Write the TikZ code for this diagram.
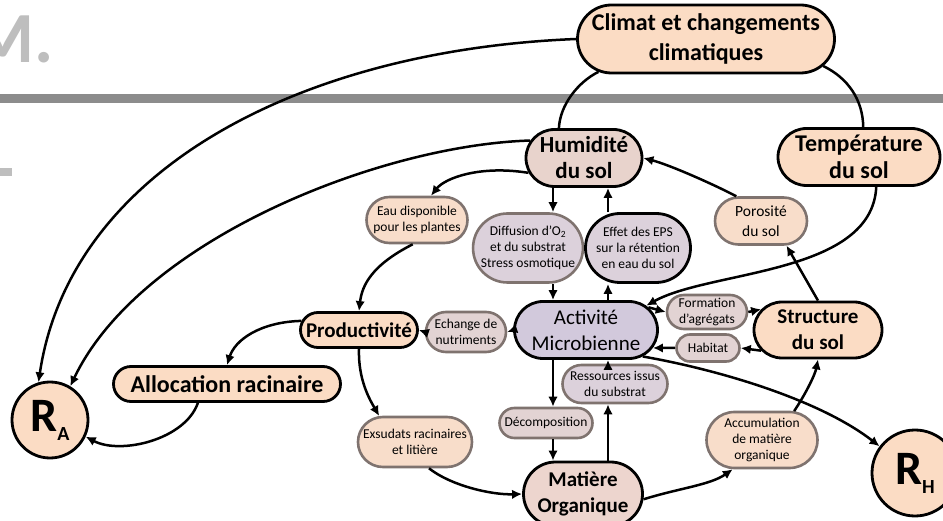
\documentclass[tikz,border=0pt]{standalone}
\usepackage{fontspec}
\setmainfont{Carlito}
\usetikzlibrary{arrows.meta,shapes.misc}

\definecolor{peach}{HTML}{FBDCC4}
\definecolor{peachlt}{HTML}{F8DDCA}
\definecolor{humfill}{HTML}{E8D3CC}
\definecolor{actfill}{HTML}{D2C9DC}
\definecolor{lavgray}{HTML}{DCD1DB}
\definecolor{pinkgray}{HTML}{E2D3D3}
\definecolor{matfill}{HTML}{EDD5CE}
\definecolor{edgegray}{HTML}{7F736F}
\definecolor{barg}{HTML}{8C8C8C}
\definecolor{mgray}{HTML}{BEBEBE}

\begin{document}
\begin{tikzpicture}[x=1pt,y=-1pt,
  >={Latex[length=10pt,width=9.5pt]},
  conn/.style={line width=2.5pt},
  bigbox/.style={rounded rectangle,draw=black,line width=2.8pt,fill=peach,
    align=center,inner sep=0pt,font=\bfseries\fontsize{21}{26}\selectfont},
  smallbox/.style={rounded rectangle,draw=edgegray,line width=2.6pt,fill=peachlt,
    align=center,inner sep=0pt,font=\fontsize{13.5}{16}\selectfont},
  resp/.style={circle,draw=black,line width=2.8pt,fill=peach,inner sep=0pt}]

  \useasboundingbox (0,0) rectangle (943,521);
%
  \fill[barg] (0,94) rectangle (943,103);
  \fill[mgray] (0,168) rectangle (12,176);
  \node[anchor=base east,text=mgray,font=\bfseries\fontsize{72}{72}\selectfont]
    (wm) at (57,63) {M.};
%
  \node[bigbox,minimum width=257pt,minimum height=68pt,
        font=\bfseries\fontsize{24}{30}\selectfont] (clim) at (706,39)
        {Climat et changements\\climatiques};
  \node[bigbox,fill=humfill,minimum width=116pt,minimum height=57pt,
        font=\bfseries\fontsize{23}{26}\selectfont] (hum) at (584,158) {Humidité\\du sol};
  \node[bigbox,minimum width=162pt,minimum height=57pt,
        font=\bfseries\fontsize{24}{27}\selectfont] (temp) at (859,157) {Température\\du sol};
  \node[smallbox,minimum width=101pt,minimum height=46pt] (eau) at (417,220)
        {Eau disponible\\pour les plantes};
  \node[smallbox,fill=lavgray,minimum width=109pt,minimum height=69pt] (diff) at (528,248)
        {Diffusion d’O\textsubscript{2}\\et du substrat\\Stress osmotique};
  \node[smallbox,fill=lavgray,draw=black,line width=2.8pt,minimum width=105pt,
        minimum height=69pt] (eps) at (638,248)
        {Effet des EPS\\sur la rétention\\en eau du sol};
  \node[smallbox,minimum width=92pt,minimum height=47pt,
        font=\fontsize{15.5}{20}\selectfont] (poro) at (761,221) {Porosité\\du sol};
  \node[bigbox,fill=actfill,minimum width=143pt,minimum height=57pt,
        font=\fontsize{21}{26}\selectfont] (act) at (586,330) {Activité\\Microbienne};
  \node[bigbox,minimum width=117pt,minimum height=35pt] (prod) at (359,330) {Productivité};
  \node[smallbox,fill=pinkgray,minimum width=80pt,minimum height=40pt] (ech) at (466,332)
        {Echange de\\nutriments};
  \node[smallbox,fill=pinkgray,minimum width=80pt,minimum height=34pt] (form) at (707,312)
        {Formation\\d’agrégats};
  \node[smallbox,fill=pinkgray,minimum width=63pt,minimum height=27pt] (hab) at (708,348)
        {Habitat};
  \node[bigbox,minimum width=128pt,minimum height=56pt] (struc) at (818,330)
        {Structure\\du sol};
  \node[smallbox,fill=lavgray,minimum width=105pt,minimum height=38pt] (ress) at (615,384)
        {Ressources issus\\du substrat};
  \node[smallbox,fill=pinkgray,minimum width=93pt,minimum height=30pt] (deco) at (546,423)
        {Décomposition};
  \node[bigbox,fill=matfill,minimum width=119pt,minimum height=64pt] (mat) at (583,494)
        {Matière\\Organique};
  \node[smallbox,minimum width=111pt,minimum height=56pt] (accu) at (762,440)
        {Accumulation\\de matière\\organique};
  \node[smallbox,minimum width=114pt,minimum height=50pt] (exsu) at (415,442)
        {Exsudats racinaires\\et litière};
  \node[bigbox,minimum width=227pt,minimum height=35pt,
        font=\bfseries\fontsize{24}{28}\selectfont] (alloc) at (227,384) {Allocation racinaire};
  \node[resp,minimum size=76pt] (ra) at (50,420)
        {\bfseries\fontsize{48}{48}\selectfont R\raisebox{-9pt}{\fontsize{20}{20}\selectfont A}};
  \node[resp,minimum size=86pt] (rh) at (915,473)
        {\bfseries\fontsize{48}{48}\selectfont R\raisebox{-9pt}{\fontsize{20}{20}\selectfont H}};
%
  \coordinate (cxa) at (553,0);
  \coordinate (cxb) at (608,0);
%
  \draw[conn,->] (clim.west) .. controls (300,50) and (70,170) .. (ra.107);
  \draw[conn,->] (hum.162) .. controls (380,145) and (140,240) .. (ra.59);
  \draw[conn,->] (hum.195) .. controls (480,165) and (445,178) .. (eau.60);
  \draw[conn] (clim.197) .. controls (578,82) and (560,105) .. (hum.130);
  \draw[conn] (clim.-13) .. controls (848,78) and (863,100) .. (temp.82);
  \draw[conn,->] (temp.-60) .. controls (872,275) and (710,270) .. (act.22);
  \draw[conn,->] (poro.135) .. controls (715,185) and (670,165) .. (hum.east);
  \draw[conn,->] (struc.north) -- (poro.-44);
%
  \draw[conn,->] (hum.south -| cxa) -- (diff.north -| cxa);
  \draw[conn,->] (diff.south -| cxa) -- (act.north -| cxa);
  \draw[conn,->] (act.north -| cxb) -- (eps.south -| cxb);
  \draw[conn,->] (eps.north -| cxb) -- (hum.south -| cxb);
  \draw[conn,->] (act.south -| cxa) -- (deco.north -| cxa);
  \draw[conn,->] (deco.south -| cxa) -- (mat.north -| cxa);
  \draw[conn,->] (mat.north -| cxb) -- (ress.south -| cxb);
  \draw[conn,->] (ress.north -| cxb) -- (act.south -| cxb);
%
  \draw[conn,->] (eau.-100) .. controls (372,265) and (362,285) .. (prod.north);
  \draw[conn,->] (act.west) -- (ech.east);
  \draw[conn,->] (ech.west) -- (prod.east);
  \draw[conn,->] (prod.171) .. controls (260,322) and (235,340) .. (alloc.north);
  \draw[conn,->] (alloc.213) .. controls (185,440) and (120,455) .. (ra.-25);
  \draw[conn,->] (prod.south) .. controls (358,380) and (370,400) .. (exsu.144);
  \draw[conn,->] (exsu.-62) .. controls (450,485) and (490,495) .. (mat.west);
  \draw[conn,->] (mat.-5) .. controls (680,488) and (710,485) .. (accu.225);
  \draw[conn,->] (accu.42) .. controls (805,395) and (815,375) .. (struc.south);
%
  \draw[conn,->] (act.20) -- (form.west);
  \draw[conn,->] (form.east) -- (struc.160);
  \draw[conn,->] (struc.200) -- (hab.east);
  \draw[conn,->] (hab.west) -- (act.-15);
  \draw[conn,->] (act.-25) .. controls (720,370) and (820,400) .. (rh.143);

\end{tikzpicture}
\end{document}
